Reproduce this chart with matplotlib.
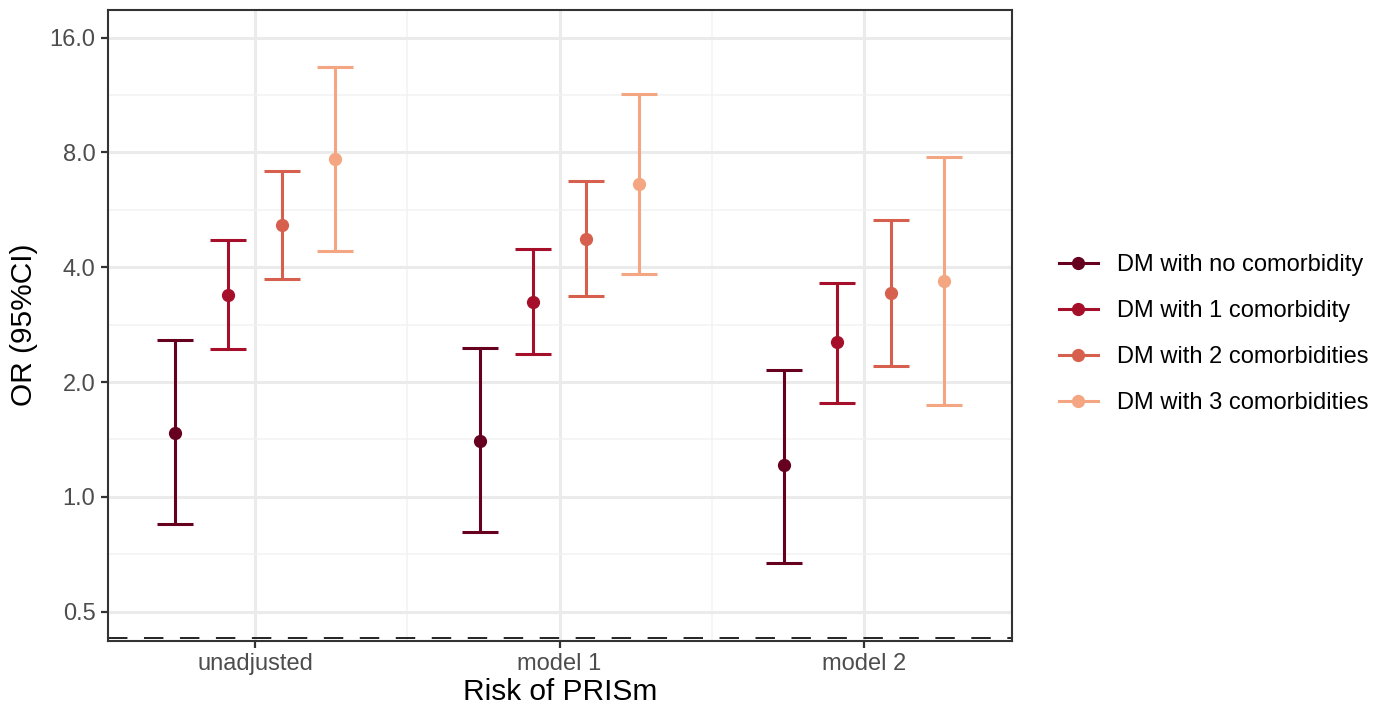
import matplotlib.pyplot as plt
import numpy as np
from matplotlib.lines import Line2D
from matplotlib.ticker import FixedLocator, NullFormatter

plt.rcParams["font.family"] = ["Liberation Sans", "DejaVu Sans"]

MODELS = ["unadjusted", "model 1", "model 2"]
GROUPS = [
    "DM with no comorbidity",
    "DM with 1 comorbidity",
    "DM with 2 comorbidities",
    "DM with 3 comorbidities",
]
COLORS = ["#67001F", "#A50F2A", "#D6604D", "#F4A582"]

# odds ratios and 95% CI per group, one value per model
OR_NONE = [1.47, 1.40, 1.21]
LO_NONE = [0.85, 0.81, 0.67]
HI_NONE = [2.58, 2.45, 2.15]

OR_ONE = [3.38, 3.25, 2.54]
LO_ONE = [2.44, 2.37, 1.76]
HI_ONE = [4.70, 4.47, 3.64]

OR_TWO = [5.16, 4.75, 3.42]
LO_TWO = [3.73, 3.36, 2.20]
HI_TWO = [7.14, 6.73, 5.32]

OR_THREE = [7.69, 6.61, 3.68]
LO_THREE = [4.41, 3.84, 1.74]
HI_THREE = [13.42, 11.36, 7.80]

Y_TICKS = [0.5, 1.0, 2.0, 4.0, 8.0, 16.0]
REF_LINE = 0.427

estimates = [OR_NONE, OR_ONE, OR_TWO, OR_THREE]
lowers = [LO_NONE, LO_ONE, LO_TWO, LO_THREE]
uppers = [HI_NONE, HI_ONE, HI_TWO, HI_THREE]

fig = plt.figure(figsize=(13.84, 7.08), dpi=100)
ax = fig.add_axes([108 / 1384, 1 - 640.5 / 708, (1012 - 108) / 1384, (640.5 - 10) / 708])

x = np.arange(1, len(MODELS) + 1)
dodge = 0.7
n = len(GROUPS)
for i, (est, lo, hi, col) in enumerate(zip(estimates, lowers, uppers, COLORS)):
    off = -dodge / 2 + dodge / n * (i + 0.5)
    est = np.asarray(est)
    yerr = np.vstack([est - np.asarray(lo), np.asarray(hi) - est])
    ax.errorbar(
        x + off, est, yerr=yerr, fmt="o", color=col, ecolor=col,
        elinewidth=2.2, capsize=13, capthick=2.2, markersize=8.5, zorder=3,
    )

ax.set_yscale("log", base=2)
ax.set_ylim(0.42, 18.9)
ax.set_xlim(0.517, 3.486)
ax.yaxis.set_major_locator(FixedLocator(Y_TICKS))
ax.set_yticklabels([f"{t:.1f}" for t in Y_TICKS])
minor_y = [np.sqrt(a * b) for a, b in zip(Y_TICKS[:-1], Y_TICKS[1:])]
ax.yaxis.set_minor_locator(FixedLocator(minor_y))
ax.yaxis.set_minor_formatter(NullFormatter())
ax.set_xticks(x)
ax.set_xticklabels(MODELS)
ax.xaxis.set_minor_locator(FixedLocator([1.5, 2.5]))

ax.grid(which="major", color="#EBEBEB", linewidth=2.2, zorder=0)
ax.grid(which="minor", color="#F2F2F2", linewidth=1.1, zorder=0)
ax.set_axisbelow(True)

ax.axhline(REF_LINE, color="#222222", linewidth=1.4, linestyle=(0, (10, 8.5)), zorder=2)

for s in ax.spines.values():
    s.set_color("#333333")
    s.set_linewidth(1.5)
ax.tick_params(axis="both", which="major", length=5, width=1.6, color="#333333",
               labelsize=17, labelcolor="#4D4D4D", pad=4)
ax.tick_params(axis="both", which="minor", length=0)

ax.set_ylabel("OR (95%CI)", fontsize=21.5, color="black", labelpad=8)
ax.set_xlabel("Risk of PRISm", fontsize=21.5, color="black", labelpad=2)

handles = [
    Line2D([0], [0], color=c, linewidth=2.2, marker="o", markersize=8.5)
    for c in COLORS
]
fig.legend(
    handles, GROUPS, loc="center left", bbox_to_anchor=(1059 / 1384, 1 - 334 / 708),
    frameon=False, fontsize=17, handlelength=1.65, handletextpad=0.8,
    labelspacing=1.02, borderpad=0, borderaxespad=0,
)

fig.savefig("out.png", dpi=100)
